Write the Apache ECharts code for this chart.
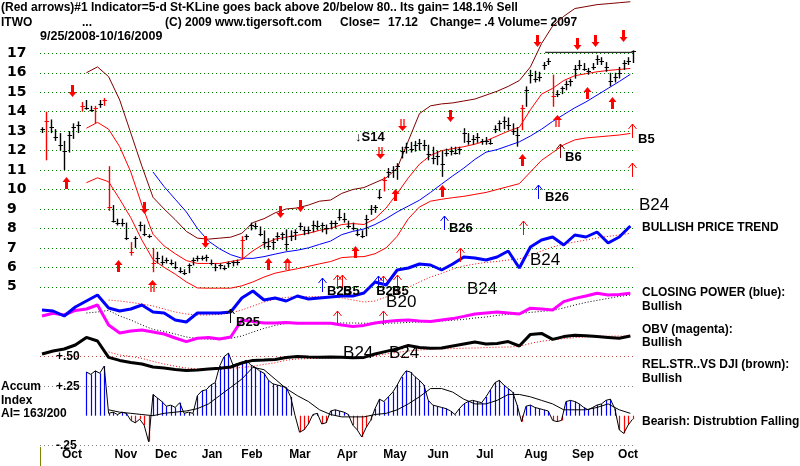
<!DOCTYPE html>
<html>
<head>
<meta charset="utf-8">
<title>ITWO</title>
<script src="https://cdn.jsdelivr.net/npm/echarts@6/dist/echarts.min.js"></script>
<style>
html, body { margin: 0; padding: 0; background: #fff; }
#main { width: 800px; height: 466px; }
</style>
</head>
<body>
<div id="main"></div>
<script>
// daily bars read every 2nd trading day, day 0 = 9/25/2008
var barStep = 2;
var barHigh = [13.2,14.0,13.6,13.1,12.9,12.5,13.0,13.4,13.5,14.5,
  14.6,14.3,14.3,14.6,14.7,11.2,9.2,8.5,8.5,8.3,
  7.3,7.6,8.35,8.2,7.7,7.0,6.8,6.6,6.5,6.4,
  6.3,6.0,5.9,6.2,6.5,6.6,6.6,6.65,6.4,6.2,
  6.2,6.1,6.3,6.35,6.4,7.6,7.7,8.3,8.3,8.1,
  7.9,7.5,7.5,7.8,7.8,7.95,7.9,7.95,8.3,8.1,
  8.1,8.4,8.4,8.3,8.2,8.4,8.4,9.0,8.8,8.4,
  8.3,8.0,7.9,8.7,9.2,9.2,10.0,10.65,11.1,11.2,
  11.35,12.2,12.4,12.45,12.5,12.6,12.55,12.3,12.2,12.0,
  12.0,12.1,12.2,12.2,12.2,13.15,12.9,12.8,12.9,12.6,
  12.7,12.6,13.3,13.55,13.75,13.7,13.4,13.2,14.35,15.3,
  16.15,16.1,16.05,16.55,16.75,15.9,15.1,15.3,15.6,15.7,
  16.4,16.65,16.5,16.25,16.5,16.9,16.8,16.55,16.0,16.0,
  16.3,16.65,16.8,17.15];
var barLow = [12.9,11.5,12.9,12.5,12.0,11.0,11.9,12.6,12.9,14.0,
  14.1,14.0,13.4,14.2,14.3,8.9,8.3,8.15,8.1,7.4,
  6.6,7.0,7.85,7.6,7.5,5.75,6.2,6.1,6.2,6.1,
  5.9,5.7,5.6,5.7,6.1,6.3,6.35,6.3,6.1,5.8,
  5.9,5.85,6.0,6.05,6.1,6.4,7.4,7.9,7.95,7.6,
  7.0,6.9,6.9,7.35,7.4,6.85,7.35,7.4,7.9,7.65,
  7.7,7.8,7.9,7.8,7.7,7.95,8.0,8.4,8.3,8.0,
  7.9,7.6,7.5,7.6,8.7,8.8,9.5,9.9,10.6,10.6,
  10.5,11.6,11.85,11.9,11.95,12.0,12.0,11.5,11.3,11.25,
  10.65,11.7,11.75,11.8,11.8,12.4,12.3,12.3,12.4,12.3,
  12.3,12.3,12.9,13.0,13.1,13.05,12.8,12.2,13.05,14.25,
  15.45,15.5,15.55,16.15,16.4,14.25,14.75,14.9,15.1,15.3,
  15.7,16.15,16.1,15.9,16.15,16.4,16.4,16.05,15.3,15.5,
  15.7,16.15,16.4,16.5];
var barClose = [13.1,13.5,13.2,12.7,12.3,12.0,12.8,13.2,13.3,14.3,
  14.2,14.1,14.2,14.4,14.6,9.1,8.4,8.3,8.3,7.5,
  6.8,7.5,8.2,7.7,7.6,6.2,6.5,6.3,6.4,6.2,
  6.0,5.8,5.7,6.1,6.4,6.5,6.5,6.55,6.2,6.0,
  6.1,5.95,6.2,6.3,6.3,7.4,7.6,8.2,8.1,7.7,
  7.3,7.1,7.3,7.6,7.7,7.2,7.6,7.8,8.1,7.9,
  7.9,8.2,8.1,8.2,8.0,8.3,8.3,8.6,8.5,8.1,
  8.0,7.7,7.6,8.5,9.0,9.1,9.6,10.5,10.9,11.0,
  11.2,12.0,12.2,12.1,12.3,12.4,12.3,11.8,11.6,11.7,
  11.3,11.9,12.0,11.9,12.1,12.9,12.5,12.6,12.7,12.5,
  12.5,12.4,13.1,13.4,13.5,13.3,13.0,12.8,14.2,15.1,
  15.9,15.7,15.8,16.4,16.6,14.8,14.9,15.2,15.4,15.6,
  16.2,16.4,16.2,16.1,16.3,16.7,16.6,16.3,15.6,15.8,
  16.0,16.5,16.6,17.12];
var redBars = [1, 9, 12, 14, 15, 20, 25, 45, 77, 108, 115];

// lines read every 5 trading days
var lineStep = 5;
var upperBand = [null,null,null,null,16.0,16.3,15.8,14.6,12.9,11.2,
  9.6,9.0,8.45,7.85,7.5,7.45,7.5,7.55,7.75,8.3,
  8.5,8.8,9.0,9.05,9.2,9.4,9.46,9.8,10.0,10.1,
  10.35,10.6,11.1,12.5,13.9,14.3,14.4,14.45,14.55,14.65,
  14.85,15.05,15.3,15.6,16.3,17.5,18.4,18.9,19.3,19.4,
  19.5,19.55,19.6,19.65];
var midLine = [null,null,null,null,13.15,13.45,13.1,12.2,10.9,9.2,
  7.7,7.1,6.7,6.35,6.2,6.2,6.2,6.3,6.4,6.85,
  7.2,7.45,7.55,7.65,7.75,7.9,8.0,8.2,8.25,8.2,
  8.5,9.05,9.8,10.6,11.3,11.75,12.0,12.1,12.2,12.33,
  12.5,12.75,13.0,13.2,14.1,14.9,15.2,15.6,15.85,15.95,
  16.05,16.12,16.17,16.22];
var lowerBand = [null,null,null,null,10.35,10.6,10.4,9.5,8.55,7.4,
  6.4,6.0,5.65,5.25,4.94,4.93,4.93,4.93,5.05,5.25,
  5.5,5.7,5.82,5.93,6.05,6.18,6.3,6.5,6.54,6.55,
  6.7,7.0,7.6,8.5,9.1,9.4,9.5,9.58,9.65,9.75,
  9.85,10.0,10.15,10.3,10.9,11.5,11.9,12.3,12.55,12.65,
  12.7,12.75,12.8,12.88];
var blueMA = [null,null,null,null,null,null,null,null,null,null,
  10.9,10.15,9.5,8.85,8.0,7.35,6.95,6.65,6.47,6.46,
  6.55,6.68,6.8,6.88,7.0,7.18,7.35,7.68,7.85,7.97,
  8.2,8.5,8.85,9.15,9.45,9.85,10.28,10.7,11.1,11.55,
  11.92,12.05,12.25,12.45,12.75,13.1,13.5,13.85,14.2,14.5,
  14.85,15.2,15.55,15.92];
var resistance = [226.6, 266, 17.05];

// indicator panels (relative units)
var closingPower = [45,44.5,42,46.5,49.5,52.5,46,44.5,45.5,47.5,
  44,43.5,40,39,43.5,43.5,43.5,44,51,54.5,
  50,51,49.5,52,50.5,51,51.5,52,52,53.5,
  59,57.5,65,66,68,67.5,65,68,71.5,71,
  70,71.5,74.5,66,76.5,80,81.5,77.5,82.5,81.5,
  84,78.5,81.5,87];
var closingPowerMA = [null,null,null,null,null,null,50,49.5,48.8,48,
  47,45.5,44,43,42.5,42.5,42.8,43.5,45,47,
  49,50.5,51.3,51.7,51.7,51.7,51.5,51,50,49,
  49.5,51.5,54,56.3,59,61.5,63.3,65.5,67,68,
  68.8,69.3,70,70.5,72.5,74.5,76.5,78,79,80,
  81,81.8,82.5,83.3];
var obv = [42,43.4,42.5,44.8,45.5,47.5,37.5,33.5,34.5,35,
  34,33,31,29.2,30.9,31.3,30.5,31.5,40,39.2,
  38.5,38.5,38.7,38.4,38.4,38.4,38.4,37.5,36.7,37.3,
  38.5,39.2,39.8,40,39.5,39.2,40,40.7,41.8,43,
  43.5,44,43.5,43,45.9,45.5,45,49.2,50.8,52,
  53.4,52.5,52.8,53.4];
var obvMA = [null,null,null,null,43.5,44,44.8,42,40,37.5,
  35.3,34.3,33,31.5,30.8,30.4,30.4,30.8,32,34,
  35.8,37.3,38.3,38.4,38.4,38.5,38.5,38.5,38.5,38.4,
  38.4,38.4,38.5,38.8,39,39.3,39.5,39.9,40.3,41,
  41.5,42.3,42.8,43.3,43.8,44.3,44.8,46,47.5,48.8,
  49.8,50.8,51.8,52.5];
var relStr = [23,24.5,25.5,27.5,31.3,29.5,21.3,19.8,18.8,18,
  16.5,16,15.3,14.8,15,15.5,15.9,16.5,18.5,19.8,
  20,20.3,21.3,21.7,21.5,21.4,21.5,21.4,21.1,21.3,
  23,24.3,25.5,27.3,26.3,25.9,26,27,28,29,
  28,28.3,29.2,27,32.8,33.3,30.3,31.7,32.4,32.1,
  31.7,31.3,30.9,32];
var relStrMA = [null,null,null,null,null,null,24,22.5,21.8,20.8,
  19.3,18,16.9,16,15.5,15.4,15.4,15.7,16.3,16.8,
  17.8,18.6,19.9,20.5,20.7,20.9,21,21.1,21.3,21.5,
  22,23,23.8,24.5,25,25.4,25.5,25.7,25.9,26,
  26.2,26.4,26.5,26.8,28.3,29.4,30,30.7,31.2,31.5,
  31.8,31.9,32,32];

// accumulation index, every 2nd trading day
var accum = [null,null,null,null,null,null,null,null,null,null,
  0.37,0.35,0.38,0.36,0.42,0.02,0.03,0.01,0.03,0.02,
  -0.04,-0.06,-0.03,-0.08,-0.22,0.18,0.15,0.12,0.08,0.09,
  0.07,0.11,0.02,0.03,0.02,0.17,0.21,0.22,0.26,0.28,
  0.42,0.5,0.53,0.43,0.44,0.45,0.47,0.43,0.41,0.38,
  0.36,0.3,0.27,0.26,0.25,0.24,0.16,0.0,-0.14,-0.12,
  -0.07,0.01,0.02,-0.07,-0.06,0.04,0.05,0.04,0.03,0.01,
  -0.08,-0.12,-0.18,-0.1,-0.04,0.06,0.14,0.12,0.16,0.2,
  0.26,0.33,0.38,0.37,0.33,0.3,0.26,0.13,0.09,0.08,
  0.07,0.06,0.04,0.01,0.06,0.1,0.12,0.13,0.12,0.11,
  0.16,0.22,0.28,0.3,0.26,0.23,0.2,0.09,-0.05,0.08,
  0.09,0.07,0.06,0.05,0.04,-0.04,-0.05,-0.04,0.12,0.13,
  0.12,0.1,0.07,0.05,0.07,0.09,0.1,0.13,0.14,0.06,
  -0.12,-0.15,-0.08,-0.03];
var accumMA = [null,null,null,null,null,null,0.05,0.03,0.02,0.01,
  0.0,0.02,0.03,0.04,0.06,0.1,0.17,0.24,0.31,0.41,
  0.39,0.31,0.23,0.17,0.12,0.05,0.01,-0.01,-0.01,-0.01,
  0.01,0.02,0.05,0.1,0.16,0.23,0.23,0.2,0.14,0.1,
  0.1,0.13,0.18,0.18,0.16,0.13,0.1,0.05,0.05,0.05,
  0.07,0.1,0.05,0.02];

// axis labels
var monthDays = [13.5, 37.8, 55.9, 76.6, 94.6, 116.2, 137.4, 159, 178.4, 199.5, 222.5, 243.7, 264];
var monthNames = ['Oct','Nov','Dec','Jan','Feb','Mar','Apr','May','Jun','Jul','Aug','Sep','Oct'];
var accumTicks = { '0.5': '+.50', '0.25': '+.25', '0': '', '-0.25': '-.25' };

// signal arrows [day, price]
var redDown = [[13.5,15.06],[46,9.05],[73.4,7.3],[107.2,8.83],[116.2,9.15],[183.8,13.77],[223,17.63],[241,17.48],[249,17.63],[261.7,17.9]];
var redDownDouble = [[152.3,11.87],[162.2,13.3]];
var redUp = [[10.8,10.33],[34.2,6.06],[101.8,6.17],[141,6.78],[159,9.72],[180.2,9.92],[216.2,11.51],[245.5,14.95],[256.8,14.44]];
var redUpDouble = [[49.5,5.03],[110.4,6.17],[232,13.51]];
var thinRedUp = [[132.9,5.24],[135,5.24],[153.6,5.19],[160,5.24],[188.3,6.63],[216.7,8.0],[265.8,13.0],[265.8,11.0],[132.9,3.39],[153.6,3.39]];
var thinBlueUp = [[126.1,5.09],[151.4,5.19],[181,8.3],[223.4,9.85]];
var thinBlackUp = [[84.7,3.48]];
var thinBrownUp = [[233.3,12.0]];

// signal names [day, price, text, large]
var signalLabels = [
  [141, 12.69, '\u2193S14', 0],
  [183.3, 8.02, 'B26', 0],
  [226.6, 9.61, 'B26', 0],
  [235.6, 11.67, 'B6', 0],
  [268.5, 12.59, 'B5', 0],
  [87.4, 3.19, 'B25', 0],
  [128.4, 4.78, 'B25', 0],
  [135.6, 4.78, 'B5', 0],
  [150.5, 4.78, 'B25', 0],
  [157.7, 4.78, 'B5', 0],
  [268.9, 9.2, 'B24', 1],
  [219.8, 6.37, 'B24', 1],
  [191.4, 4.88, 'B24', 1],
  [155, 4.21, 'B20', 1],
  [135.6, 1.59, 'B24', 1],
  [156.3, 1.59, 'B24', 1]
];

var titleLine1 = '(Red arrows)#1 Indicator=5-d St-KLine goes back above 20/below 80.. Its gain= 148.1% Sell';
var titleLine2 = ['ITWO', '...', '(C) 2009 www.tigersoft.com', 'Close=', '17.12', 'Change= .4 Volume= 2097'];
var dateRange = '9/25/2008-10/16/2009';
var rightNotes = [
  ['BULLISH PRICE TREND', 228],
  ['CLOSING POWER (blue):', 293],
  ['Bullish', 307],
  ['OBV (magenta):', 330],
  ['Bullish', 343],
  ['REL.STR..VS DJI (brown):', 365],
  ['Bullish', 379],
  ['Bearish: Distrubtion Falling.', 422]
];
var accumNotes = ['Accum', 'Index', 'AI= 163/200'];

var FONT = '"Liberation Sans", Arial, sans-serif';

function lineData(values, step) {
  return values.map(function (v, i) { return [i * step, v]; });
}

function lineSeries(values, step, grid, color, width, dash) {
  return {
    type: 'line',
    xAxisIndex: grid, yAxisIndex: grid,
    data: lineData(values, step),
    showSymbol: false, symbol: 'none', clip: false, silent: true,
    lineStyle: { color: color, width: width, type: dash || 'solid' }
  };
}

function renderPriceBar(params, api) {
  var k = params.dataIndex;
  var hi = api.coord([api.value(0), api.value(1)]);
  var lo = api.coord([api.value(0), api.value(2)]);
  var cl = api.coord([api.value(0), api.value(3)]);
  var x = Math.round(hi[0]) + 0.5;
  var cy = Math.round(cl[1]) + 0.5;
  var color = redBars.indexOf(k) >= 0 ? '#ff0000' : '#000000';
  return {
    type: 'group',
    children: [
      { type: 'line', shape: { x1: x, y1: hi[1], x2: x, y2: lo[1] }, style: { stroke: color, lineWidth: 1.4 } },
      { type: 'line', shape: { x1: x - 2, y1: cy, x2: x + 2.5, y2: cy }, style: { stroke: color, lineWidth: 1 } }
    ]
  };
}

function renderAccum(params, api) {
  var v = api.value(1);
  if (v == null || isNaN(v)) return null;
  var top = api.coord([api.value(0), v]);
  var base = api.coord([api.value(0), 0]);
  var x = Math.round(top[0]) + 0.5;
  return {
    type: 'line',
    shape: { x1: x, y1: base[1], x2: x, y2: top[1] },
    style: { stroke: v >= 0 ? '#0000ff' : '#ff0000', lineWidth: 1.2 }
  };
}

function arrowShape(kind, cx, cy, color) {
  if (kind === 'down' || kind === 'up') {
    var s = kind === 'down' ? 1 : -1;
    return {
      type: 'polygon',
      shape: { points: [[cx - 1.5, cy - 6 * s], [cx + 1.5, cy - 6 * s], [cx + 1.5, cy + 1 * s], [cx + 4, cy + 1 * s],
        [cx, cy + 6 * s], [cx - 4, cy + 1 * s], [cx - 1.5, cy + 1 * s]] },
      style: { fill: color }
    };
  }
  if (kind === 'ddown' || kind === 'dup') {
    var d = kind === 'ddown' ? 1 : -1;
    return {
      type: 'group',
      children: [
        { type: 'line', shape: { x1: cx - 1.5, y1: cy - 6 * d, x2: cx - 1.5, y2: cy + 1 * d }, style: { stroke: color, lineWidth: 1.3 } },
        { type: 'line', shape: { x1: cx + 1.5, y1: cy - 6 * d, x2: cx + 1.5, y2: cy + 1 * d }, style: { stroke: color, lineWidth: 1.3 } },
        { type: 'polygon', shape: { points: [[cx - 4.5, cy + 1 * d], [cx + 4.5, cy + 1 * d], [cx, cy + 6 * d]] }, style: { fill: color } }
      ]
    };
  }
  // thin up arrow
  return {
    type: 'group',
    children: [
      { type: 'line', shape: { x1: cx, y1: cy + 7, x2: cx, y2: cy - 7 }, style: { stroke: color, lineWidth: 1 } },
      { type: 'polyline', shape: { points: [[cx - 4, cy - 2], [cx, cy - 7], [cx + 4, cy - 2]] }, style: { stroke: color, lineWidth: 1, fill: null } }
    ]
  };
}

function arrowSeries(points, kind, color) {
  return {
    type: 'custom', xAxisIndex: 0, yAxisIndex: 0, clip: false, silent: true, z: 5,
    data: points,
    renderItem: function (params, api) {
      var p = api.coord([api.value(0), api.value(1)]);
      return arrowShape(kind, Math.round(p[0]) + 0.5, Math.round(p[1]), color);
    }
  };
}

var myChart = echarts.init(document.getElementById('main'), null, { renderer: 'canvas' });

var gridBox = { left: 40, width: 595 };
var xMin = -0.9, xMax = 267.1;

function xAxisFor(g, withLabels) {
  return {
    gridIndex: g, type: 'value', min: xMin, max: xMax,
    axisLine: { show: false }, axisTick: { show: false }, splitLine: { show: false },
    axisLabel: withLabels ? {
      show: true,
      customValues: monthDays,
      formatter: function (v) {
        var i = monthDays.indexOf(v);
        return i >= 0 ? monthNames[i] : '';
      },
      color: '#000', fontFamily: FONT, fontWeight: 'bold', fontSize: 12, margin: 3
    } : { show: false }
  };
}

var graphics = [
  { type: 'text', x: 1, y: 8, style: { text: titleLine1, font: 'bold 12px ' + FONT, fill: '#000', verticalAlign: 'middle' } },
  { type: 'text', x: 1, y: 22.5, style: { text: titleLine2[0], font: 'bold 12px ' + FONT, fill: '#000', verticalAlign: 'middle' } },
  { type: 'text', x: 82, y: 22.5, style: { text: titleLine2[1], font: 'bold 12px ' + FONT, fill: '#000', verticalAlign: 'middle' } },
  { type: 'text', x: 165, y: 22.5, style: { text: titleLine2[2], font: 'bold 12px ' + FONT, fill: '#000', verticalAlign: 'middle' } },
  { type: 'text', x: 340, y: 22.5, style: { text: titleLine2[3], font: 'bold 12px ' + FONT, fill: '#000', verticalAlign: 'middle' } },
  { type: 'text', x: 388, y: 22.5, style: { text: titleLine2[4], font: 'bold 12px ' + FONT, fill: '#000', verticalAlign: 'middle' } },
  { type: 'text', x: 430, y: 22.5, style: { text: titleLine2[5], font: 'bold 12px ' + FONT, fill: '#000', verticalAlign: 'middle' } },
  { type: 'text', x: 40, y: 36.5, style: { text: dateRange, font: 'bold 12.5px ' + FONT, fill: '#000', verticalAlign: 'middle' } },
  { type: 'line', shape: { x1: 40.5, y1: 447, x2: 40.5, y2: 466 }, style: { stroke: '#808000', lineWidth: 1 } }
];
rightNotes.forEach(function (n) {
  graphics.push({ type: 'text', x: 642, y: n[1], style: { text: n[0], font: 'bold 12px ' + FONT, fill: '#000', verticalAlign: 'middle' } });
});
accumNotes.forEach(function (t, i) {
  graphics.push({ type: 'text', x: 1, y: 387 + i * 13.5, style: { text: t, font: 'bold 12px ' + FONT, fill: '#000', verticalAlign: 'middle' } });
});

var option = {
  animation: false,
  backgroundColor: '#ffffff',
  grid: [
    { left: gridBox.left, width: gridBox.width, top: 53.3, height: 233.5 },   // price
    { left: gridBox.left, width: gridBox.width, top: 356.7, height: 88.5 },   // accumulation index
    { left: gridBox.left, width: gridBox.width, top: 200, height: 200 }       // closing power / obv / rel str
  ],
  xAxis: [xAxisFor(0, false), xAxisFor(1, true), xAxisFor(2, false)],
  yAxis: [
    {
      gridIndex: 0, type: 'value', min: 5, max: 17, interval: 1,
      axisLine: { show: false }, axisTick: { show: false },
      axisLabel: { color: '#000', fontFamily: '"DejaVu Sans", sans-serif', fontWeight: 'bold', fontSize: 14, align: 'left', margin: 33 },
      splitLine: { show: true, lineStyle: { color: '#008000', width: 1, type: [1, 3] } }
    },
    {
      gridIndex: 1, type: 'value', min: -0.25, max: 0.5, interval: 0.25,
      axisLine: { show: false }, axisTick: { show: false },
      axisLabel: {
        inside: true, margin: 16, align: 'left', color: '#000', fontFamily: FONT, fontWeight: 'bold', fontSize: 12,
        formatter: function (v) { var t = accumTicks[String(Math.round(v * 100) / 100)]; return t == null ? '' : t; }
      },
      splitLine: { show: true, lineStyle: { color: ['#808080', 'rgba(0,0,0,0)', '#808080', '#b04848'], width: 1, type: [1, 3] } }
    },
    { gridIndex: 2, type: 'value', min: 0, max: 100, show: false, splitLine: { show: false } }
  ],
  graphic: graphics,
  series: [
    // price panel lines
    lineSeries(upperBand, lineStep, 0, '#800000', 1),
    lineSeries(midLine, lineStep, 0, '#ff0000', 1),
    lineSeries(lowerBand, lineStep, 0, '#ff0000', 1),
    lineSeries(blueMA, lineStep, 0, '#0000ff', 1),
    {
      type: 'line', xAxisIndex: 0, yAxisIndex: 0, symbol: 'none', silent: true, clip: false,
      data: [[resistance[0], resistance[2]], [resistance[1], resistance[2]]],
      lineStyle: { color: '#000', width: 1 }
    },
    // indicator lines
    lineSeries(closingPowerMA, lineStep, 2, '#ff0000', 1, [1, 2]),
    lineSeries(obvMA, lineStep, 2, '#000000', 1, [1, 2]),
    lineSeries(relStrMA, lineStep, 2, '#ff0000', 1, [1, 2]),
    lineSeries(obv, lineStep, 2, '#ff00ff', 3),
    lineSeries(relStr, lineStep, 2, '#000000', 3),
    lineSeries(closingPower, lineStep, 2, '#0000ff', 3),
    // accumulation index
    {
      type: 'custom', xAxisIndex: 1, yAxisIndex: 1, clip: false, silent: true,
      data: lineData(accum, barStep), renderItem: renderAccum
    },
    lineSeries(accum, barStep, 1, '#000000', 1),
    lineSeries(accumMA, lineStep, 1, '#000000', 1),
    // price bars
    {
      type: 'custom', xAxisIndex: 0, yAxisIndex: 0, clip: false, silent: true, z: 4,
      data: barHigh.map(function (h, k) { return [k * barStep, h, barLow[k], barClose[k]]; }),
      renderItem: renderPriceBar
    },
    // signals
    arrowSeries(redDown, 'down', '#ff0000'),
    arrowSeries(redUp, 'up', '#ff0000'),
    arrowSeries(redDownDouble, 'ddown', '#ff0000'),
    arrowSeries(redUpDouble, 'dup', '#ff0000'),
    arrowSeries(thinRedUp, 'thin', '#ff0000'),
    arrowSeries(thinBlueUp, 'thin', '#0000ff'),
    arrowSeries(thinBlackUp, 'thin', '#000000'),
    arrowSeries(thinBrownUp, 'thin', '#800000'),
    {
      type: 'custom', xAxisIndex: 0, yAxisIndex: 0, clip: false, silent: true, z: 6,
      data: signalLabels.map(function (s) { return [s[0], s[1]]; }),
      renderItem: function (params, api) {
        var s = signalLabels[params.dataIndex];
        var p = api.coord([api.value(0), api.value(1)]);
        return {
          type: 'text', x: p[0], y: p[1],
          style: {
            text: s[2], fill: '#000', verticalAlign: 'middle', align: 'left',
            font: s[3] ? '17px ' + FONT : 'bold 13px ' + FONT
          }
        };
      }
    }
  ]
};

myChart.setOption(option);
</script>
</body>
</html>
